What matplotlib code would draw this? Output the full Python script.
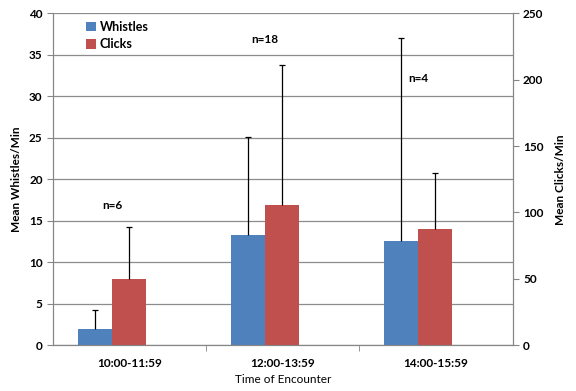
import matplotlib
matplotlib.use("Agg")
import matplotlib.pyplot as plt
import numpy as np

categories = ["10:00-11:59", "12:00-13:59", "14:00-15:59"]
whistles = [1.96, 13.3, 12.57]
whistles_err = [2.24, 11.8, 24.5]
clicks = [50.1, 105.6, 87.6]
clicks_err = [39.2, 105.2, 41.9]
n_labels = ["n=6", "n=18", "n=4"]
n_label_y = [16.8, 36.9, 32.1]

plt.rcParams['font.family'] = ['Lato', 'DejaVu Sans']
blue = "#4F81BD"
red = "#C0504D"
gray = "#868686"

fig = plt.figure(figsize=(5.76, 3.91), dpi=100)
ax = fig.add_axes([0.092, 0.117, 0.798, 0.849])
ax2 = ax.twinx()

x = np.arange(len(categories))
w = 0.222
xw = x - 0.226
xc = x - 0.004

bw = ax.bar(xw, whistles, w, color=blue, label="Whistles", zorder=2)
e1 = ax.errorbar(xw, whistles, yerr=[np.zeros(3), whistles_err], fmt='none',
                 ecolor='black', elinewidth=0.9, capsize=2.5, capthick=0.9, zorder=3)
e1[1][0].set_visible(False)

bc = ax2.bar(xc, clicks, w, color=red, label="Clicks", zorder=2)
e2 = ax2.errorbar(xc, clicks, yerr=[np.zeros(3), clicks_err], fmt='none',
                  ecolor='black', elinewidth=0.9, capsize=2.5, capthick=0.9, zorder=3)
e2[1][0].set_visible(False)

for xi, lab, yy in zip(x - 0.115, n_labels, n_label_y):
    ax.text(xi, yy, lab, ha='center', va='center', fontsize=8.5, fontweight='bold')

ax.set_xlim(-0.5, 2.5)
ax.set_ylim(0, 40)
ax2.set_ylim(0, 250)
ax.set_yticks(np.arange(0, 41, 5))
ax2.set_yticks(np.arange(0, 251, 50))
ax.set_xticks(x)
ax.set_xticklabels(categories)
ax.set_xticks([0.5, 1.5], minor=True)
ax.tick_params(axis='x', which='major', length=0, pad=9)
ax.tick_params(axis='x', which='minor', length=4, color=gray, direction='out')

ax.grid(axis='y', color='#8c8c8c', linewidth=0.9)
ax.set_axisbelow(True)

for a in (ax, ax2):
    a.spines['top'].set_visible(False)
    for s in ('left', 'right', 'bottom'):
        a.spines[s].set_color(gray)
    a.tick_params(axis='y', length=4, color=gray, labelsize=8.5)
    for lbl in a.get_yticklabels():
        lbl.set_fontweight('bold')
for lbl in ax.get_xticklabels():
    lbl.set_fontweight('bold')
    lbl.set_fontsize(8.5)

ax.set_ylabel("Mean Whistles/Min", fontsize=8.5, fontweight='bold', labelpad=5)
ax2.set_ylabel("Mean Clicks/Min", fontsize=8.5, fontweight='bold', labelpad=8)
ax.set_xlabel("Time of Encounter", fontsize=8.5, labelpad=4)

leg = ax2.legend(handles=[bw, bc], loc='upper left', bbox_to_anchor=(0.055, 1.0),
                 frameon=False, prop={'size': 9, 'weight': 'bold'},
                 handlelength=0.8, handleheight=0.8,
                 handletextpad=0.3, labelspacing=0.45, borderaxespad=0.2)

fig.savefig("out.png", dpi=100)
